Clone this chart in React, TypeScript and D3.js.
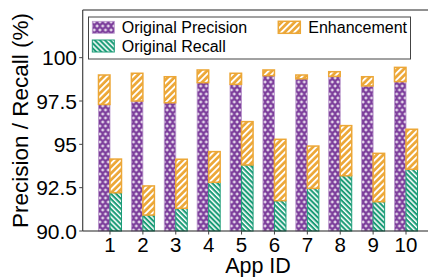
import React from "react";
import * as d3 from "d3";

const appIds = [1, 2, 3, 4, 5, 6, 7, 8, 9, 10];
const origPrecision = [97.3, 97.5, 97.4, 98.56, 98.46, 98.96, 98.78, 98.92, 98.37, 98.62];
const enhPrecision = [99.0, 99.1, 98.9, 99.29, 99.1, 99.29, 99.0, 99.19, 98.9, 99.44];
const origRecall = [92.21, 90.92, 91.31, 92.81, 93.81, 91.75, 92.46, 93.19, 91.69, 93.56];
const enhRecall = [94.15, 92.6, 94.14, 94.58, 96.31, 95.29, 94.9, 96.08, 94.48, 95.87];
const yTicks = [90, 92.5, 95, 97.5, 100];
const yTickLabels = ["90.0", "92.5", "95", "97.5", "100"];
const legendLabels = ["Original Precision", "Original Recall", "Enhancement"];

const W = 428;
const H = 277;
const FONT = "Liberation Sans, Arial, sans-serif";
const PURPLE = "#7d3f9c";
const GREEN = "#1b9c77";
const ORANGE = "#eca737";

export default function App() {
  const left = 82.7;
  const top = 10;
  const bottom = 231;
  const x = d3.scaleLinear().domain([0.17, 10.83]).range([left, 433.3]);
  const y = d3.scaleLinear().domain([90, 102.75]).range([bottom, top]);
  const bw = x(0.35) - x(0);
  const axisColor = "#444";

  return (
    <svg width={W} height={H} style={{ position: "absolute", left: 0, top: 0 }} fontFamily={FONT}>
      <defs>
        <pattern id="pPurple" patternUnits="userSpaceOnUse" width={5.6} height={8}>
          <rect width={5.6} height={8} fill={PURPLE} />
          <rect x={0.4} y={1.5} width={3} height={1} fill="#fff" />
          <rect x={1.4} y={0.5} width={1} height={3} fill="#fff" />
          <rect x={3.2} y={5.5} width={3} height={1} fill="#fff" />
          <rect x={4.2} y={4.5} width={1} height={3} fill="#fff" />
          <rect x={-2.4} y={5.5} width={3} height={1} fill="#fff" />
        </pattern>
        <pattern id="pGreen" patternUnits="userSpaceOnUse" width={3.6} height={3.6} patternTransform="rotate(-45)">
          <rect width={3.6} height={3.6} fill={GREEN} />
          <rect x={0} y={0} width={1.5} height={3.6} fill="#fff" />
        </pattern>
        <pattern id="pOrange" patternUnits="userSpaceOnUse" width={4.6} height={4.6} patternTransform="rotate(45)">
          <rect width={4.6} height={4.6} fill={ORANGE} />
          <rect x={0} y={0} width={1.9} height={4.6} fill="#fff" />
        </pattern>
      </defs>

      {/* bars */}
      {appIds.map((id, i) => {
        const cx = x(id);
        return (
          <g key={id}>
            <rect x={cx - bw} y={y(origPrecision[i])} width={bw} height={bottom - y(origPrecision[i])}
              fill="url(#pPurple)" stroke="#b995cb" strokeWidth={0.8} />
            <rect x={cx - bw} y={y(enhPrecision[i])} width={bw} height={y(origPrecision[i]) - y(enhPrecision[i])}
              fill="url(#pOrange)" stroke={ORANGE} strokeWidth={1.5} />
            <rect x={cx} y={y(origRecall[i])} width={bw} height={bottom - y(origRecall[i])}
              fill="url(#pGreen)" stroke={GREEN} strokeWidth={1} />
            <rect x={cx} y={y(enhRecall[i])} width={bw} height={y(origRecall[i]) - y(enhRecall[i])}
              fill="url(#pOrange)" stroke={ORANGE} strokeWidth={1.5} />
          </g>
        );
      })}

      {/* spines */}
      <line x1={left} x2={W} y1={top} y2={top} stroke="#222" strokeWidth={1} />
      <line x1={left} x2={left} y1={top} y2={bottom} stroke={axisColor} strokeWidth={1.2} />
      <line x1={left} x2={W} y1={bottom} y2={bottom} stroke="#222" strokeWidth={1.2} />

      {/* y ticks */}
      {yTicks.map((t, i) => (
        <g key={t}>
          <line x1={left - 3.5} x2={left} y1={y(t)} y2={y(t)} stroke={axisColor} strokeWidth={1} />
          <text x={77} y={y(t) + 7.5} fontSize={21} textAnchor="end" fill="#000">{yTickLabels[i]}</text>
        </g>
      ))}

      {/* x ticks */}
      {appIds.map((id) => (
        <g key={id}>
          <line x1={x(id)} x2={x(id)} y1={bottom} y2={bottom + 3.5} stroke={axisColor} strokeWidth={1} />
          <text x={x(id)} y={252} fontSize={20.5} textAnchor="middle" fill="#000">{id}</text>
        </g>
      ))}

      {/* axis labels */}
      <text x={258} y={272.5} fontSize={21.5} textAnchor="middle" fill="#000">App ID</text>
      <text transform={`translate(28,${(top + bottom) / 2}) rotate(-90)`} fontSize={22.5} textAnchor="middle" fill="#000">
        Precision / Recall (%)
      </text>

      {/* legend */}
      <rect x={88.5} y={17} width={322} height={42} fill="#fff" stroke="#444" strokeWidth={1} />
      <rect x={92.3} y={21.3} width={22} height={12} fill="url(#pPurple)" stroke="#b995cb" strokeWidth={0.8} />
      <text x={121.7} y={33} fontSize={16} fill="#000">{legendLabels[0]}</text>
      <rect x={92.3} y={40} width={22} height={12} fill="url(#pGreen)" stroke={GREEN} strokeWidth={1} />
      <text x={121.7} y={52} fontSize={16} fill="#000">{legendLabels[1]}</text>
      <rect x={278.3} y={21.3} width={22} height={12} fill="url(#pOrange)" stroke={ORANGE} strokeWidth={1.5} />
      <text x={308.3} y={33} fontSize={16} fill="#000">{legendLabels[2]}</text>
    </svg>
  );
}
